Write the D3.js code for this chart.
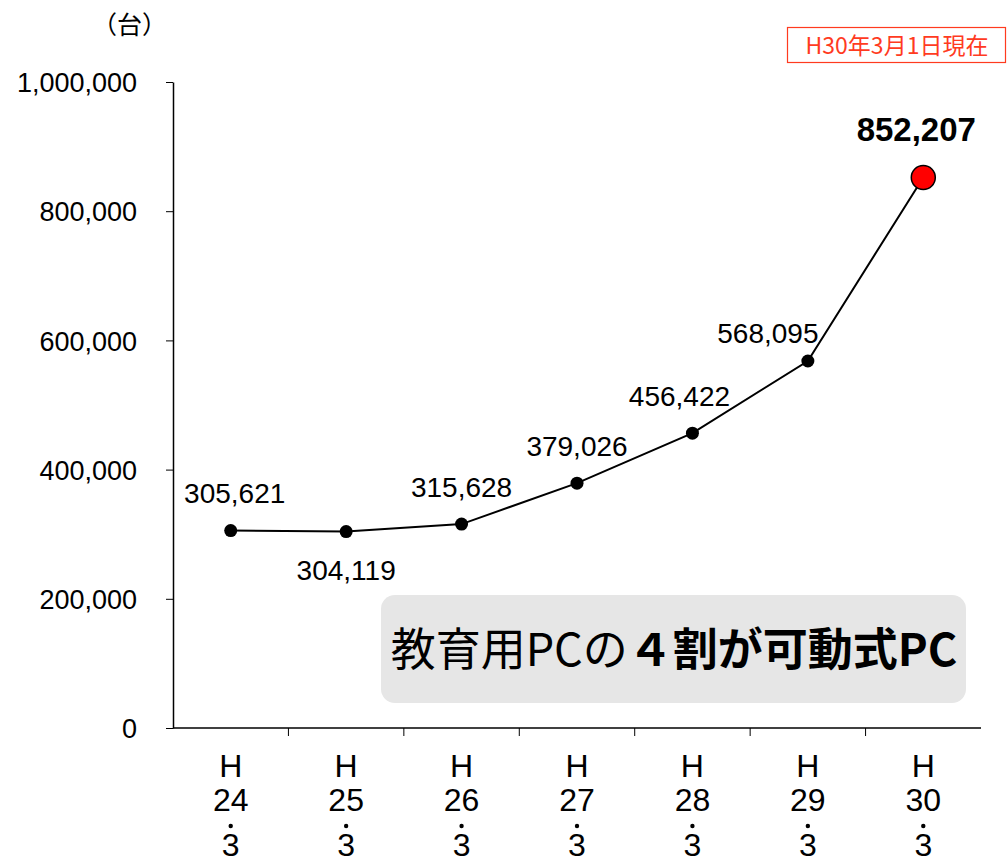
<!DOCTYPE html>
<html><head><meta charset="utf-8">
<script src="https://cdn.jsdelivr.net/npm/d3@7"></script>
<style>body{margin:0;background:#fff}svg{font-family:Arial,"Liberation Sans","Noto Sans CJK JP",sans-serif}</style>
</head><body>
<svg id="chart" width="1007" height="859"></svg>
<script>
const categories = ["24", "25", "26", "27", "28", "29", "30"];
const values = [305621, 304119, 315628, 379026, 456422, 568095, 852207];
const labels = ["305,621", "304,119", "315,628", "379,026", "456,422", "568,095", "852,207"];
const yTicks = [0, 200000, 400000, 600000, 800000, 1000000];

const svg = d3.select("#chart");
const x = d3.scaleBand().domain(categories).range([173, 981]);
const y = d3.scaleLinear().domain([0, 1000000]).range([728, 82]);

// y axis
const ya = svg.append("g").attr("transform", "translate(173,0)")
  .call(d3.axisLeft(y).tickValues(yTicks).tickFormat(d3.format(",")).tickSize(7).tickSizeOuter(0));
ya.select(".domain").attr("stroke", "#000").attr("stroke-width", 1.5);
ya.selectAll("text").attr("font-size", 27).attr("fill", "#000").attr("x", -36).attr("dy", "0.36em");

// x axis
svg.append("line").attr("x1", 173).attr("x2", 981).attr("y1", 728).attr("y2", 728)
  .attr("stroke", "#000").attr("stroke-width", 1.5);
categories.forEach((c, i) => {
  const bx = x(c) + x.bandwidth();
  if (i < categories.length - 1)
    svg.append("line").attr("x1", bx).attr("x2", bx).attr("y1", 728).attr("y2", 736).attr("stroke", "#000");
  const cx = x(c) + x.bandwidth() / 2;
  svg.append("text").attr("x", cx).attr("y", 777).attr("text-anchor", "middle").attr("font-size", 32).text("H");
  svg.append("text").attr("x", cx).attr("y", 811).attr("text-anchor", "middle").attr("font-size", 32).text(c);
  svg.append("circle").attr("cx", cx).attr("cy", 826).attr("r", 2.2).attr("fill", "#000");
  svg.append("text").attr("x", cx).attr("y", 856).attr("text-anchor", "middle").attr("font-size", 32).text("3");
});

const cx = c => x(c) + x.bandwidth() / 2;
svg.append("path")
  .attr("d", d3.line().x((d, i) => cx(categories[i])).y(d => y(d))(values))
  .attr("fill", "none").attr("stroke", "#000").attr("stroke-width", 2);

values.forEach((v, i) => {
  const last = i === values.length - 1;
  svg.append("circle").attr("cx", cx(categories[i])).attr("cy", y(v))
    .attr("r", last ? 12 : 6.5).attr("fill", last ? "#ff0000" : "#000")
    .attr("stroke", "#000").attr("stroke-width", last ? 1.5 : 0);
});

const labelOffsets = [[4, -28], [0, 48], [0, -27], [0, -27], [-13, -27], [-40, -18], [-7, -36]];
labels.forEach((l, i) => {
  const last = i === labels.length - 1;
  svg.append("text").attr("x", cx(categories[i]) + labelOffsets[i][0]).attr("y", y(values[i]) + labelOffsets[i][1])
    .attr("text-anchor", "middle").attr("font-size", last ? 33 : 28)
    .attr("font-weight", last ? "bold" : "normal").attr("fill", "#000").text(l);
});

// note box
svg.append("rect").attr("x", 381).attr("y", 595).attr("width", 585).attr("height", 108)
  .attr("rx", 14).attr("fill", "#e6e6e6");
const nt = svg.append("text").attr("x", 674).attr("y", 666).attr("text-anchor", "middle")
  .attr("font-size", 45).attr("fill", "#000").attr("font-family", "'Noto Sans CJK JP',sans-serif");
nt.append("tspan").text("教育用PCの");
nt.append("tspan").attr("font-weight", "bold").text("４割が可動式PC");

// unit
svg.append("text").attr("x", 92).attr("y", 34).attr("font-size", 25)
  .attr("font-family", "'Noto Sans CJK JP',sans-serif").text("（台）");

// date box
svg.append("rect").attr("x", 787.5).attr("y", 27.5).attr("width", 218).attr("height", 35)
  .attr("fill", "#fff").attr("stroke", "#ff3b1f").attr("stroke-width", 1.2);
svg.append("text").attr("x", 897).attr("y", 54).attr("text-anchor", "middle").attr("font-size", 23)
  .attr("fill", "#ff3b1f").attr("font-family", "'Noto Sans CJK JP',sans-serif").text("H30年3月1日現在");
</script>
</body></html>
